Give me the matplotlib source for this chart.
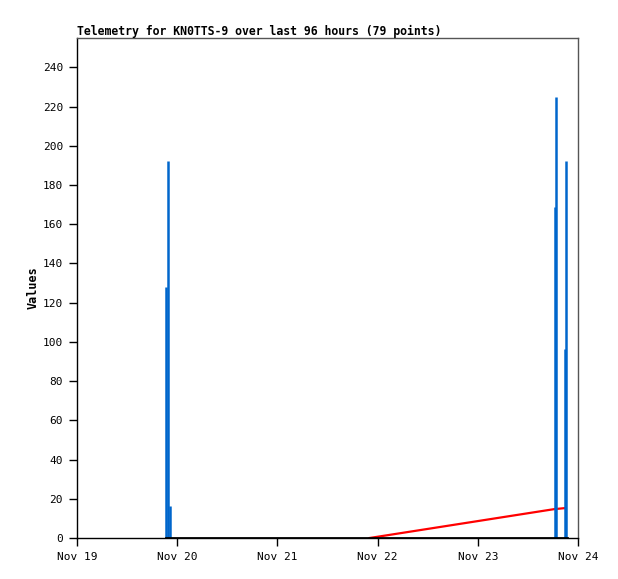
import matplotlib
matplotlib.use('Agg')
from matplotlib import pyplot as plt
import matplotlib.dates as mdates
import numpy as np
import pandas as pd

# series
blue_times = ['2024-11-19 21:22', '2024-11-19 21:50', '2024-11-19 22:19',
              '2024-11-23 18:29', '2024-11-23 18:50', '2024-11-23 20:53', '2024-11-23 21:14']
blue_values = [128, 192.5, 16.3, 168.7, 224.7, 96.5, 192.5]

red_times = ['2024-11-21 22:05', '2024-11-23 18:14', '2024-11-23 20:38']
red_values = [0, 14.7, 15.2]

black_times = ['2024-11-19 21:22', '2024-11-23 21:22']
black_values = [0, 0]

title = 'Telemetry for KN0TTS-9 over last 96 hours (79 points)'
x_start, x_end = '2024-11-19', '2024-11-24'

mono = 'DejaVu Sans Mono'

fig = plt.figure(figsize=(6.18, 5.79), dpi=100)
ax = fig.add_axes([77/618, 41/579, 501/618, 500/579])

bt = pd.to_datetime(blue_times)
ax.plot(pd.to_datetime(red_times), red_values, color='#ff0000', lw=1.6, zorder=2)
ax.vlines(bt, 0, blue_values, color='#0066cc', lw=1.8, zorder=3)
ax.plot(pd.to_datetime(black_times), black_values, color='black', lw=2, zorder=4)

ax.set_xlim(pd.Timestamp(x_start), pd.Timestamp(x_end))
ax.set_ylim(0, 255)
ax.set_yticks(np.arange(0, 241, 20))
ax.xaxis.set_major_locator(mdates.DayLocator())
ax.xaxis.set_major_formatter(mdates.DateFormatter('%b %d'))

for lab in ax.get_xticklabels() + ax.get_yticklabels():
    lab.set_family(mono)
    lab.set_fontsize(8)
ax.tick_params(direction='out', length=6, width=1, colors='black', pad=4)

ax.spines['top'].set_color('#555555')
ax.spines['right'].set_color('#555555')
for s in ax.spines.values():
    s.set_linewidth(1)

ax.set_ylabel('Values', family=mono, fontweight='bold', fontsize=8.5, labelpad=2)
ax.set_title(title, loc='left', family=mono, fontweight='bold', fontsize=8.3, pad=1)

fig.savefig('out.png', dpi=100)
